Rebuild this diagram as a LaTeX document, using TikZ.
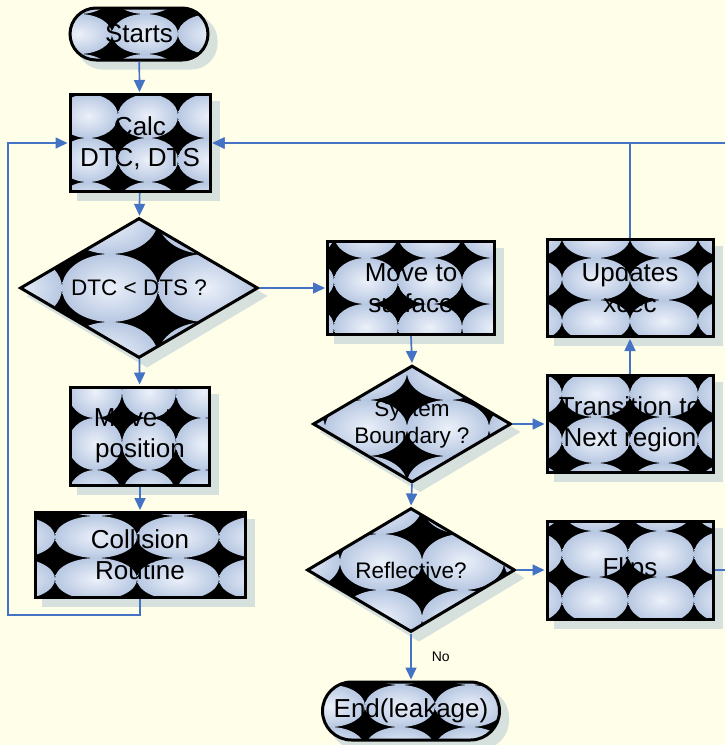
\documentclass[tikz,border=0pt]{standalone}
\usepackage{fontspec}
\setmainfont{Liberation Sans}
\usetikzlibrary{shapes.geometric,arrows.meta}
\pgfdeclarelayer{back}
\pgfdeclarelayer{shad}
\pgfsetlayers{back,shad,main}
\definecolor{bgc}{RGB}{255,254,233}
\definecolor{ellblue}{RGB}{184,200,226}
\definecolor{elllight}{RGB}{236,241,250}
\definecolor{shadowc}{RGB}{214,224,221}
\definecolor{connc}{RGB}{68,114,196}
\tikzset{
  ell/.style n args={4}{path picture={
    \fill[black] (path picture bounding box.south west) rectangle (path picture bounding box.north east);
    \foreach \i in {-3,...,3}{\foreach \j in {-3,...,3}{
      \shade[inner color=elllight,outer color=ellblue]
        ([shift={({#3+2*#1*\i},{#4+2*#2*\j})}]path picture bounding box.center)
        ellipse [x radius=#1pt, y radius=#2pt];
    }}
  }},
  base/.style={draw=black, line width=3pt, fill=black, align=center},
  box/.style={base, rectangle, inner sep=0pt, font=\fontsize{26}{31}\selectfont},
  term/.style={box, rounded corners=#1},
  dec/.style={base, diamond, inner sep=-14pt, font=\fontsize{22.5}{27}\selectfont},
  shd/.style={fill=shadowc},
  arr/.style={draw=connc, line width=1.7pt, -{Triangle[length=12pt,width=11pt]}, shorten >=1pt},
  lbl/.style={font=\fontsize{14}{16}\selectfont, inner sep=0pt}
}
\begin{document}
\begin{tikzpicture}[x=1pt,y=-1pt]
\useasboundingbox (0,0) rectangle (725,745);
\begin{pgfonlayer}{back}
\fill[bgc] (0,0) rectangle (725,745);
\end{pgfonlayer}
\clip (0,0) rectangle (725,745);

\node[term=26pt, minimum width=138pt, minimum height=52pt, ell={33}{20}{6}{0}] (start) at (139,34) {Starts};
\node[box, minimum width=140pt, minimum height=97pt, ell={30}{22}{8}{17}] (calc) at (140,143) {Calc\\DTC, DTS};
\node[dec, minimum width=238pt, minimum height=140pt, ell={48}{34}{-29}{0}] (d1) at (139,288) {DTC < DTS ?};
\node[box, minimum width=167pt, minimum height=93pt, ell={32}{23}{-45}{-7}] (surf) at (411,288) {Move to\\surface};
\node[box, minimum width=166pt, minimum height=97pt, ell={34}{21}{-34}{-9}] (upd) at (630,288) {Updates\\xcec};
\node[box, minimum width=139pt, minimum height=98pt, ell={27}{26}{9}{8}] (pos) at (140,436) {Move to\\position};
\node[box, minimum width=210pt, minimum height=85pt, ell={41}{21}{-44}{-18}] (coll) at (140,555) {Collision\\Routine};
\node[dec, minimum width=198pt, minimum height=117pt, ell={41}{28}{-46}{4}] (d2) at (412,424) {System\\Boundary ?};
\node[box, minimum width=166pt, minimum height=97pt, ell={34}{23}{-34}{16}] (trans) at (630,424) {Transition to\\Next region};
\node[dec, minimum width=208pt, minimum height=124pt, ell={41}{28}{-30}{-8}] (d3) at (411,570) {Reflective?};
\node[box, minimum width=166pt, minimum height=98pt, ell={33}{23}{-35}{-16}] (flips) at (630,570) {Flips};
\node[term=29pt, minimum width=177pt, minimum height=58pt, ell={35}{21}{-11}{-5}] (stop) at (411,711) {End(leakage)};

\begin{pgfonlayer}{shad}
\foreach \n in {calc,surf,upd,pos,coll,trans,flips}{
  \fill[shd] ([shift={(8,8)}]\n.north west) rectangle ([shift={(8,8)}]\n.south east);
}
\fill[shd, rounded corners=26pt] ([shift={(8,8)}]start.north west) rectangle ([shift={(8,8)}]start.south east);
\fill[shd, rounded corners=29pt] ([shift={(8,8)}]stop.north west) rectangle ([shift={(8,8)}]stop.south east);
\foreach \n in {d1,d2,d3}{
  \fill[shd] ([shift={(8,8)}]\n.north) -- ([shift={(8,8)}]\n.east) -- ([shift={(8,8)}]\n.south) -- ([shift={(8,8)}]\n.west) -- cycle;
}
\end{pgfonlayer}

\coordinate (l1) at (8,615);
\coordinate (r1) at (745,570);

\draw[arr] (start) -- (calc);
\draw[arr] (calc) -- (d1);
\draw[arr] (d1) -- (pos);
\draw[arr] (pos) -- (coll);
\draw[arr] (coll.south) |- (l1) |- (calc.west);
\draw[arr] (d1.east) -- (surf.west);
\draw[arr] (surf.south) -- (d2.north);
\draw[arr] (d2.east) -- (trans.west);
\draw[arr] (trans.north) -- (upd.south);
\draw[arr] (upd.north) |- (calc.east);
\draw[arr] (d2.south) -- (d3.north);
\draw[arr] (d3.east) -- (flips.west);
\draw[arr] (flips.east) -- (r1) |- (calc.east);
\draw[arr] (d3.south) -- node[lbl, right=20pt] (no) {No} (stop.north);
\end{tikzpicture}
\end{document}
